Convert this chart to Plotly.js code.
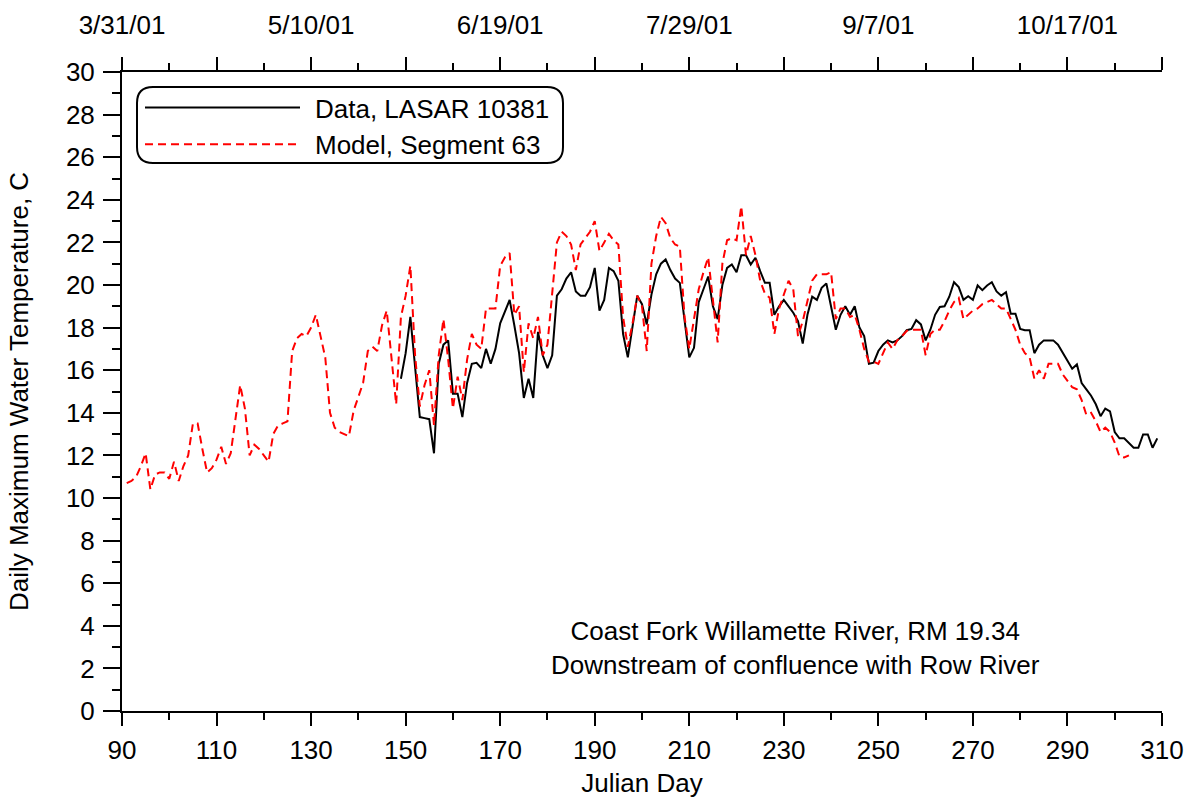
<!DOCTYPE html>
<html>
<head>
<meta charset="utf-8">
<script src="https://cdn.plot.ly/plotly-3.0.1.min.js"></script>
<style>
  html, body { margin: 0; padding: 0; background: #fff; }
  #chart { width: 1191px; height: 804px; }
</style>
</head>
<body>
<div id="chart"></div>
<script>
// ---- Data ----
const modelFirstDay = 91;
const modelTemp = [
  10.7, 10.8, 11.0, 11.5, 12.1, 10.4, 11.1, 11.2, 11.2, 10.9,   // 91-100
  11.7, 10.8, 11.5, 12.0, 13.5, 13.5, 12.3, 11.2, 11.4, 11.8,   // 101-110
  12.4, 11.6, 12.1, 13.6, 15.3, 14.2, 12.0, 12.5, 12.3, 12.0,   // 111-120
  11.7, 13.0, 13.4, 13.5, 13.6, 16.9, 17.5, 17.7, 17.6, 18.0,   // 121-130
  18.6, 17.6, 16.6, 14.0, 13.3, 13.1, 13.0, 12.9, 14.1, 14.7,   // 131-140
  15.4, 16.9, 17.1, 16.9, 18.1, 18.8, 16.7, 14.4, 18.5, 19.5,   // 141-150
  20.9, 16.7, 14.3, 15.3, 16.0, 13.4, 16.7, 18.4, 16.5, 14.2,   // 151-160
  15.7, 14.6, 16.5, 17.7, 17.2, 17.0, 18.9, 18.9, 18.9, 20.9,   // 161-170
  21.3, 21.5, 18.6, 19.0, 15.9, 18.2, 17.5, 18.5, 16.7, 17.2,   // 171-180
  19.8, 22.0, 22.5, 22.3, 21.9, 20.7, 21.9, 22.2, 22.5, 23.0,   // 181-190
  21.6, 22.0, 22.4, 22.1, 21.9, 18.5, 17.1, 18.2, 19.5, 19.0,   // 191-200
  16.9, 21.0, 22.3, 23.2, 22.9, 22.2, 21.9, 21.8, 18.5, 17.0,   // 201-210
  18.3, 19.8, 20.6, 21.3, 19.3, 17.3, 21.0, 22.1, 22.2, 22.1,   // 211-220
  23.7, 21.4, 22.3, 21.4, 20.2, 19.6, 19.4, 17.7, 18.9, 19.6,   // 221-230
  20.2, 19.8, 17.6, 18.3, 19.3, 20.2, 20.5, 20.5, 20.5, 20.6,   // 231-240
  18.4, 18.9, 18.9, 18.5, 18.6, 17.9, 17.0, 16.4, 16.4, 16.3,   // 241-250
  16.8, 17.3, 17.0, 17.4, 17.6, 17.85, 17.9, 17.9, 17.9, 16.7,  // 251-260
  17.7, 17.9, 17.9, 18.3, 18.8, 19.2, 19.4, 18.4, 18.6, 18.8,   // 261-270
  18.9, 19.1, 19.2, 19.3, 19.1, 18.9, 18.9, 18.4, 17.9, 17.2,   // 271-280
  16.8, 16.6, 15.6, 16.0, 15.6, 16.3, 16.3, 16.3, 15.8, 15.5,   // 281-290
  15.2, 15.1, 14.6, 13.9, 14.0, 13.6, 13.1, 13.3, 13.1, 12.6,   // 291-300
  11.95, 11.9, 12.0                                              // 301-303
];

const dataFirstDay = 149;
const dataTemp = [
  15.6, 16.8, 18.5, 16.0, 13.8, 13.75, 13.7, 12.1, 16.3, 17.2,  // 149-158
  17.4, 14.9, 14.9, 13.8, 15.4, 16.3, 16.35, 16.1, 17.0, 16.3,  // 159-168
  17.0, 18.2, 18.8, 19.3, 18.1, 16.8, 14.7, 15.6, 14.7, 17.8,   // 169-178
  16.7, 16.1, 16.7, 19.5, 19.8, 20.3, 20.6, 19.7, 19.5, 19.5,   // 179-188
  19.9, 20.8, 18.8, 19.3, 20.8, 20.65, 20.2, 17.7, 16.6, 18.0,  // 189-198
  19.5, 19.1, 18.15, 19.55, 20.5, 21.0, 21.2, 20.7, 20.3, 20.1, // 199-208
  18.4, 16.6, 17.05, 19.2, 19.8, 20.4, 19.0, 18.4, 20.0, 20.8,  // 209-218
  20.96, 20.6, 21.4, 21.4, 20.96, 21.28, 20.65, 20.1, 20.1, 18.6, // 219-228
  19.0, 19.3, 19.0, 18.7, 18.3, 17.25, 18.6, 19.45, 19.3, 19.87, // 229-238
  20.07, 18.9, 17.9, 18.6, 19.0, 18.6, 19.0, 18.0, 17.6, 16.3,  // 239-248
  16.35, 16.9, 17.2, 17.4, 17.3, 17.4, 17.6, 17.88, 17.94, 18.35, // 249-258
  18.15, 17.4, 17.9, 18.6, 18.97, 19.0, 19.45, 20.13, 19.9, 19.3, // 259-268
  19.47, 19.3, 19.98, 19.76, 19.98, 20.13, 19.7, 19.5, 19.66, 18.65, // 269-278
  18.65, 17.94, 17.88, 17.88, 16.8, 17.2, 17.4, 17.4, 17.4, 17.2, // 279-288
  16.8, 16.4, 16.07, 16.27, 15.4, 15.1, 14.8, 14.4, 13.84, 14.2, // 289-298
  14.07, 13.1, 12.8, 12.8, 12.6, 12.36, 12.36, 12.98, 12.98, 12.36, // 299-308
  12.8                                                            // 309
];

const bottomTickVals = [90, 110, 130, 150, 170, 190, 210, 230, 250, 270, 290, 310];
const topTickVals   = [90, 110, 130, 150, 170, 190, 210, 230, 250, 270, 290, 310];
const topTickText   = ['3/31/01', '', '5/10/01', '', '6/19/01', '', '7/29/01', '', '9/7/01', '', '10/17/01', ''];
const yTickVals = [0, 2, 4, 6, 8, 10, 12, 14, 16, 18, 20, 22, 24, 26, 28, 30];

const seriesNames = ['Data, LASAR 10381', 'Model, Segment 63'];
const noteLines = ['Coast Fork Willamette River, RM 19.34', 'Downstream of confluence with Row River'];

// ---- Build day axes ----
const modelDays = modelTemp.map((_, i) => modelFirstDay + i);
const dataDays = dataTemp.map((_, i) => dataFirstDay + i);

// ---- Geometry helpers (pixels -> paper) ----
const W = 1191, H = 804;
const M = {l: 122, r: 29, t: 72, b: 93};
const plotW = W - M.l - M.r, plotH = H - M.t - M.b;
const px = x => (x - M.l) / plotW;
const py = y => (H - M.b - y) / plotH;

const FONT = 'Liberation Sans, Arial, sans-serif';
const FS = 26;

const traces = [
  {
    x: dataDays, y: dataTemp, name: seriesNames[0], type: 'scatter', mode: 'lines',
    line: {color: '#000000', width: 2}
  },
  {
    x: modelDays, y: modelTemp, name: seriesNames[1], type: 'scatter', mode: 'lines',
    line: {color: '#ff0000', width: 2, dash: '8px,5px'}
  }
];

// rounded legend box
const bx0 = 137, bx1 = 563, by0 = 87, by1 = 163, r = 16;
const rx = r / plotW, ry = r / plotH;
const X0 = px(bx0), X1 = px(bx1), Y0 = py(by0), Y1 = py(by1);
const boxPath = `M${X0 + rx},${Y0} L${X1 - rx},${Y0} Q${X1},${Y0} ${X1},${Y0 - ry} ` +
  `L${X1},${Y1 + ry} Q${X1},${Y1} ${X1 - rx},${Y1} L${X0 + rx},${Y1} ` +
  `Q${X0},${Y1} ${X0},${Y1 + ry} L${X0},${Y0 - ry} Q${X0},${Y0} ${X0 + rx},${Y0} Z`;

const layout = {
  width: W, height: H,
  margin: M,
  paper_bgcolor: '#ffffff', plot_bgcolor: '#ffffff',
  font: {family: FONT, size: FS, color: '#000'},
  showlegend: true,
  legend: {
    x: px(140), y: py(84), xanchor: 'left', yanchor: 'top',
    bgcolor: 'rgba(0,0,0,0)', borderwidth: 0,
    itemwidth: 165, font: {family: FONT, size: FS, color: '#000'},
    tracegroupgap: 0
  },
  xaxis: {
    range: [90, 310], autorange: false,
    tickmode: 'array', tickvals: bottomTickVals,
    ticks: 'outside', ticklen: 13, tickwidth: 2, tickcolor: '#000',
    minor: {tickmode: 'linear', tick0: 90, dtick: 10, ticks: 'outside', ticklen: 7, tickwidth: 2, tickcolor: '#000'},
    showline: true, linewidth: 2, linecolor: '#000',
    showgrid: false, zeroline: false,
    tickfont: {family: FONT, size: FS},
    title: {text: 'Julian Day', font: {family: FONT, size: FS}, standoff: 10},
    ticklabelstandoff: 2
  },
  xaxis2: {
    overlaying: 'x', side: 'top', anchor: 'y',
    range: [90, 310], autorange: false,
    tickmode: 'array', tickvals: topTickVals, ticktext: topTickText,
    ticks: 'outside', ticklen: 13, tickwidth: 2, tickcolor: '#000',
    minor: {tickmode: 'linear', tick0: 90, dtick: 10, ticks: 'outside', ticklen: 7, tickwidth: 2, tickcolor: '#000'},
    showline: true, linewidth: 2, linecolor: '#000',
    showgrid: false, zeroline: false,
    tickfont: {family: FONT, size: FS},
    ticklabelstandoff: 13
  },
  yaxis: {
    range: [0, 30], autorange: false,
    tickmode: 'array', tickvals: yTickVals,
    ticks: 'outside', ticklen: 17, tickwidth: 2, tickcolor: '#000',
    minor: {tickmode: 'linear', tick0: 0, dtick: 1, ticks: 'outside', ticklen: 8, tickwidth: 2, tickcolor: '#000'},
    showline: true, linewidth: 2, linecolor: '#000',
    showgrid: false, zeroline: false,
    tickfont: {family: FONT, size: FS},
    title: {text: 'Daily Maximum Water Temperature, C', font: {family: FONT, size: FS}, standoff: 30},
    ticklabelstandoff: 3
  },
  shapes: [
    {type: 'path', xref: 'paper', yref: 'paper', path: boxPath,
     line: {color: '#000', width: 2}, fillcolor: 'rgba(0,0,0,0)'}
  ],
  annotations: [
    {xref: 'paper', yref: 'paper', x: px(795), y: py(648), xanchor: 'center', yanchor: 'middle',
     text: noteLines.join('<br>'), showarrow: false, align: 'center',
     font: {family: FONT, size: FS, color: '#000'}}
  ]
};

// invisible trace to attach the top axis
traces.push({x: [90, 310], y: [null, null], xaxis: 'x2', yaxis: 'y', type: 'scatter', mode: 'lines',
  showlegend: false, hoverinfo: 'skip'});

Plotly.newPlot('chart', traces, layout, {staticPlot: true}).then(gd => {
  // lengthen legend line samples
  gd.querySelectorAll('.legend .legendlines path').forEach(p => {
    p.setAttribute('d', 'M5,0h155');
  });
});
</script>
</body>
</html>
